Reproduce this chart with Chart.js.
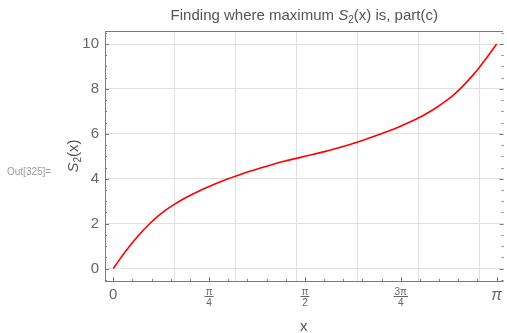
<!DOCTYPE html>
<html>
<head>
<meta charset="utf-8">
<script src="https://cdn.jsdelivr.net/npm/chart.js@4"></script>
<style>
  body { margin: 0; background: #fff; }
</style>
</head>
<body>
<canvas id="c" width="507" height="333"></canvas>
<script>
// values
let xValues = [0, 0.05, 0.1, 0.15, 0.2, 0.25, 0.3, 0.35, 0.4, 0.45, 0.5, 0.6, 0.7, 0.8, 0.9, 1.0, 1.1, 1.2, 1.3, 1.4, 1.5, 1.5708,
  1.64, 1.74, 1.84, 1.94, 2.04, 2.14, 2.24, 2.34, 2.44, 2.54, 2.64, 2.74, 2.79, 2.84, 2.89, 2.94, 2.99, 3.04, 3.09, 3.1416];
let sValues = [0, 0.39, 0.76, 1.11, 1.43, 1.73, 2.01, 2.26, 2.48, 2.68, 2.86, 3.18, 3.45, 3.69, 3.91, 4.11, 4.3, 4.47, 4.63, 4.78, 4.91, 5.0,
  5.09, 5.22, 5.37, 5.53, 5.7, 5.89, 6.09, 6.31, 6.55, 6.82, 7.14, 7.52, 7.74, 7.99, 8.27, 8.57, 8.89, 9.24, 9.61, 10];

let xTickValues = [0, Math.PI / 4, Math.PI / 2, 3 * Math.PI / 4, Math.PI];
let xTickLabels = ["0", "π/4", "π/2", "3π/4", "π"];
let xGridValues = [0.5, 1, 1.5, 2, 2.5, 3];
let yTickValues = [0, 2, 4, 6, 8, 10];

let gray = "#666";
let gridColor = "#e0e0e0";
let frameColor = "#7a7a7a";

function tickIndex(v) {
  for (let i = 0; i < xTickValues.length; i++) {
    if (Math.abs(xTickValues[i] - v) < 1e-6) return i;
  }
  return -1;
}

let points = xValues.map((x, i) => ({ x: x, y: sValues[i] }));

// Mathematica style frame, inward ticks, fraction bars, texts
let decorations = {
  id: "decorations",
  afterDraw(chart) {
    let ctx = chart.ctx;
    let a = chart.chartArea;
    let xs = chart.scales.x;
    let ys = chart.scales.y;
    ctx.save();
    ctx.strokeStyle = frameColor;
    ctx.lineWidth = 1;
    ctx.beginPath();
    ctx.moveTo(a.left + 0.5, a.top + 0.5);
    ctx.lineTo(a.right - 0.5, a.top + 0.5);
    ctx.moveTo(a.left + 0.5, a.top);
    ctx.lineTo(a.left + 0.5, a.bottom + 0.5);
    ctx.lineTo(a.right, a.bottom + 0.5);
    ctx.stroke();

    // bottom ticks
    ctx.beginPath();
    for (let k = 0; k <= 20; k++) {
      let v = k * Math.PI / 20;
      let px = Math.round(xs.getPixelForValue(v)) + 0.5;
      let len = k % 5 === 0 ? 4 : 2;
      ctx.moveTo(px, a.bottom);
      ctx.lineTo(px, a.bottom - len);
    }
    // left and right ticks
    for (let v = -0.5; v <= 10.5; v += 0.5) {
      let py = Math.round(ys.getPixelForValue(v)) + 0.5;
      let len = Math.abs(v % 2) < 1e-6 ? 4 : 2;
      ctx.moveTo(a.left, py);
      ctx.lineTo(a.left + len, py);
      ctx.moveTo(a.right, py);
      ctx.lineTo(a.right - len, py);
    }
    ctx.stroke();

    // fraction bars under the pi labels
    ctx.strokeStyle = gray;
    ctx.font = "10px 'Liberation Sans'";
    ctx.beginPath();
    xTickLabels.forEach((t, i) => {
      if (t.indexOf("/") < 0) return;
      let num = t.split("/")[0];
      let w = ctx.measureText(num).width + 2;
      let px = xs.getPixelForValue(xTickValues[i]);
      ctx.moveTo(px - w / 2, 296.5);
      ctx.lineTo(px + w / 2, 296.5);
    });
    ctx.stroke();

    // title with italic S and subscript
    ctx.fillStyle = "#555";
    ctx.textBaseline = "alphabetic";
    let parts = [
      { t: "Finding where maximum ", f: "15px 'Liberation Sans'", dy: 0 },
      { t: "S", f: "italic 15px 'Liberation Sans'", dy: 0 },
      { t: "2", f: "10px 'Liberation Sans'", dy: 3 },
      { t: "(x) is, part(c)", f: "15px 'Liberation Sans'", dy: 0 },
    ];
    let total = 0;
    parts.forEach(p => { ctx.font = p.f; p.w = ctx.measureText(p.t).width; total += p.w; });
    let cx = (a.left + a.right) / 2 - total / 2;
    parts.forEach(p => { ctx.font = p.f; ctx.fillText(p.t, cx, 20 + p.dy); cx += p.w; });

    // y axis title, rotated
    ctx.save();
    ctx.translate(78, (a.top + a.bottom) / 2);
    ctx.rotate(-Math.PI / 2);
    let yparts = [
      { t: "S", f: "italic 15px 'Liberation Sans'", dy: 0 },
      { t: "2", f: "10px 'Liberation Sans'", dy: 3 },
      { t: "(x)", f: "15px 'Liberation Sans'", dy: 0 },
    ];
    total = 0;
    yparts.forEach(p => { ctx.font = p.f; p.w = ctx.measureText(p.t).width; total += p.w; });
    cx = -total / 2;
    yparts.forEach(p => { ctx.font = p.f; ctx.fillText(p.t, cx, p.dy); cx += p.w; });
    ctx.restore();

    // x axis title
    ctx.font = "15px 'Liberation Sans'";
    ctx.textAlign = "center";
    ctx.fillText("x", (a.left + a.right) / 2 - 0.5, 331);

    // notebook cell label
    ctx.fillStyle = "#9a9a9a";
    ctx.font = "10px 'Liberation Sans'";
    ctx.textAlign = "left";
    ctx.fillText("Out[325]=", 7, 175);
    ctx.restore();
  },
};

let chart = new Chart(document.getElementById("c"), {
  type: "line",
  data: {
    datasets: [
      {
        data: points,
        borderColor: "#ff0000",
        borderWidth: 1.6,
        pointRadius: 0,
        fill: false,
        cubicInterpolationMode: "monotone",
      },
    ],
  },
  options: {
    responsive: false,
    animation: false,
    layout: { padding: { top: 31, right: 0, left: 0, bottom: 0 } },
    plugins: {
      legend: { display: false },
      title: { display: false },
      tooltip: { enabled: false },
    },
    scales: {
      x: {
        type: "linear",
        min: -0.0675,
        max: 3.198,
        afterBuildTicks: (scale) => {
          let vals = xGridValues.concat(xTickValues).sort((p, q) => p - q);
          scale.ticks = vals.map((v) => ({ value: v }));
        },
        afterFit: (scale) => { scale.height = 52; },
        border: { display: false },
        grid: {
          drawTicks: false,
          color: (c) => (tickIndex(c.tick.value) < 0 ? gridColor : "rgba(0,0,0,0)"),
        },
        ticks: {
          autoSkip: false,
          maxRotation: 0,
          padding: 5,
          color: gray,
          font: (c) => {
            let i = c.tick ? tickIndex(c.tick.value) : -1;
            if (i === 0) return { family: "'Liberation Sans'", size: 15 };
            if (i === 4) return { family: "'Liberation Sans'", size: 16, style: "italic" };
            return { family: "'Liberation Sans'", size: 10, lineHeight: 1.15 };
          },
          callback: (value) => {
            let i = tickIndex(value);
            if (i < 0) return "";
            let t = xTickLabels[i];
            return t.indexOf("/") >= 0 ? t.split("/") : t;
          },
        },
      },
      y: {
        min: -0.55,
        max: 10.58,
        afterBuildTicks: (scale) => {
          scale.ticks = yTickValues.map((v) => ({ value: v }));
        },
        afterFit: (scale) => { scale.width = 105; },
        border: { display: false },
        grid: { drawTicks: false, color: gridColor },
        ticks: {
          padding: 6,
          color: gray,
          font: { family: "'Liberation Sans'", size: 15 },
        },
      },
    },
  },
  plugins: [decorations],
});
</script>
</body>
</html>
